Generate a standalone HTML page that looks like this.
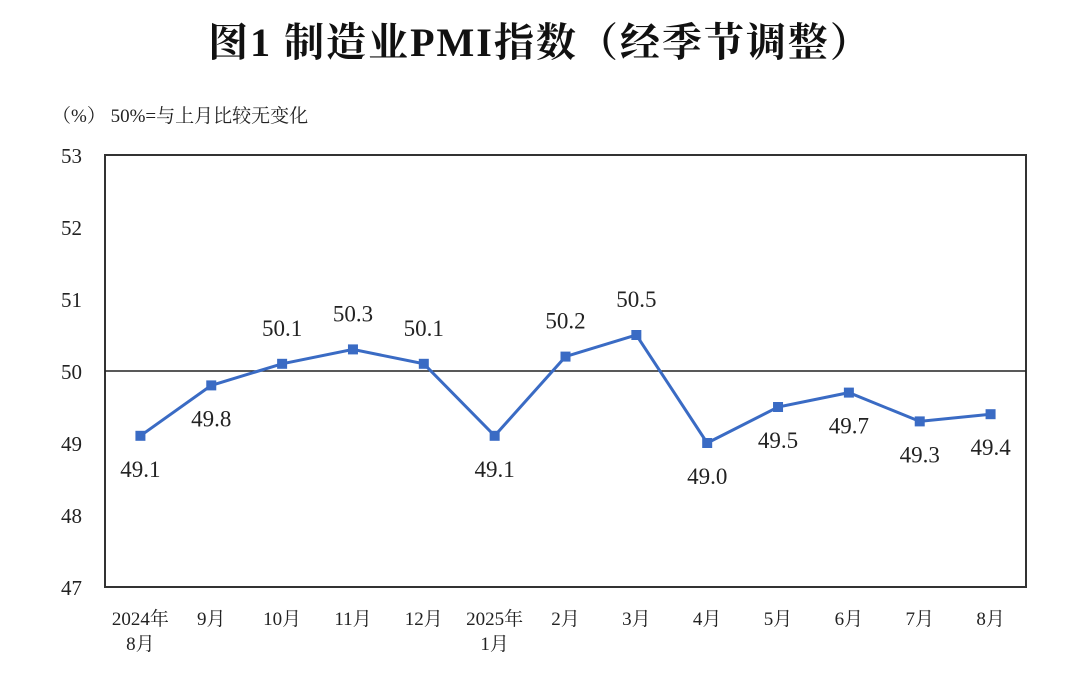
<!DOCTYPE html>
<html><head><meta charset="utf-8"><style>
body{margin:0;background:#fff;width:1076px;height:676px;overflow:hidden}
svg text{font-family:"Liberation Serif","Noto Serif CJK SC",serif}
</style></head><body>
<svg width="1076" height="676" xmlns="http://www.w3.org/2000/svg">
<text x="540" y="56" text-anchor="middle" font-size="40" letter-spacing="2" font-weight="bold" fill="#111">图1  制造业PMI指数（经季节调整）</text>
<text x="52" y="122" font-size="19" fill="#222">（%） 50%=与上月比较无变化</text>
<g id="axes"></g>
<g id="series"></g>
</svg>
<script>
const categories=["2024年|8月","9月","10月","11月","12月","2025年|1月","2月","3月","4月","5月","6月","7月","8月"];
const values=[49.1,49.8,50.1,50.3,50.1,49.1,50.2,50.5,49.0,49.5,49.7,49.3,49.4];
const yTicks=[47,48,49,50,51,52,53];
const NS="http://www.w3.org/2000/svg";
const L=105,R=1026,T=155,B=587,yMin=47,yMax=53;
const xs=i=>L+(R-L)/categories.length*(i+0.5);
const ys=v=>B-(v-yMin)/(yMax-yMin)*(B-T);
function mk(tag,attrs,parent){const e=document.createElementNS(NS,tag);for(const k in attrs)e.setAttribute(k,attrs[k]);parent.appendChild(e);return e;}
const ax=document.getElementById('axes'),se=document.getElementById('series');
const frame=mk('rect',{x:L,y:T,width:R-L,height:B-T,fill:'none',stroke:'#333','stroke-width':2},ax);


const ref=mk('line',{x1:L,x2:R,y1:ys(50),y2:ys(50),stroke:'#222','stroke-width':1.5},ax);


yTicks.forEach(t=>{const e=mk('text',{x:82,y:ys(t)+8,'text-anchor':'end','font-size':21,fill:'#222'},ax);e.textContent=t;

});
categories.forEach((c,i)=>{const parts=c.split('|');const e=mk('text',{x:xs(i),y:625,'text-anchor':'middle','font-size':19,fill:'#222'},ax);


parts.forEach((p,j)=>{const ts=mk('tspan',{x:xs(i),dy:j?25:0},e);ts.textContent=p;});});
const pts=values.map((v,i)=>xs(i)+','+ys(v)).join(' ');
const line=mk('polyline',{points:pts,fill:'none',stroke:'#3a6bc4','stroke-width':3},se);


values.forEach((v,i)=>{const m=mk('rect',{x:xs(i)-5,y:ys(v)-5,width:10,height:10,fill:'#3a6bc4'},se);


const above=v>=50;const t=mk('text',{x:xs(i),y:above?ys(v)-28:ys(v)+41,'text-anchor':'middle','font-size':23,fill:'#222'},se);
t.textContent=v.toFixed(1);

});
</script>
</body></html>
